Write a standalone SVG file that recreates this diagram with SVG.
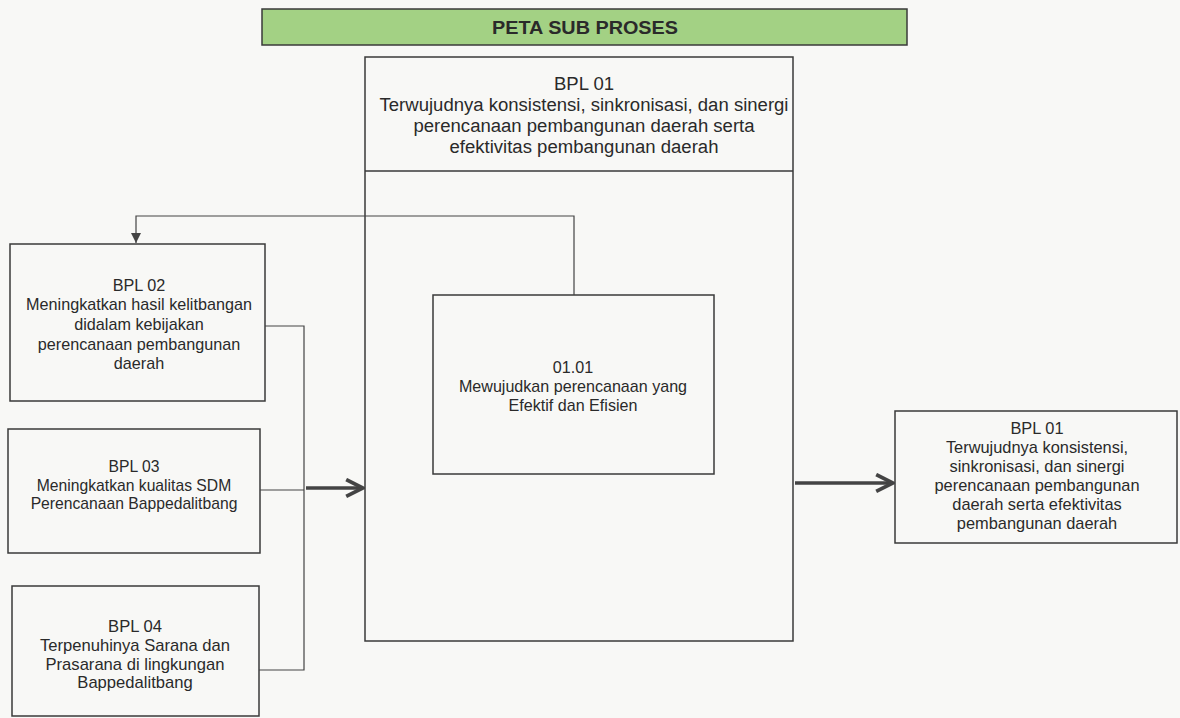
<svg xmlns="http://www.w3.org/2000/svg" width="1180" height="718" viewBox="0 0 1180 718">
<style>
.box{fill:none;stroke:#3a3a3a;stroke-width:1.5}
.t{font-family:"Liberation Sans",Arial,sans-serif;font-size:16px;fill:#2a2a2a;text-anchor:middle}
.ttl{font-family:"Liberation Sans",Arial,sans-serif;font-size:18px;font-weight:bold;fill:#2a2a2a;text-anchor:middle}
.ln{fill:none;stroke:#444;stroke-width:1.2}
.thick{fill:none;stroke:#444;stroke-width:3.5}
</style>
<defs>
<marker id="tri" viewBox="0 0 10 10" refX="10" refY="5" markerWidth="10" markerHeight="10" markerUnits="userSpaceOnUse" orient="auto">
<path d="M0,0 L10,5 L0,10 Z" fill="#444"/>
</marker>
<marker id="chev" viewBox="0 0 10 10" refX="9" refY="5" markerWidth="6" markerHeight="6" orient="auto">
<path d="M1,1 L9,5 L1,9" fill="none" stroke="#444" stroke-width="1.8"/>
</marker>
</defs>
<rect width="1180" height="718" fill="#f8f8f6"/>
<g id="title">
<rect x="262" y="9" width="645" height="36" fill="#a3d184" stroke="#3a3a3a" stroke-width="1.5"/>
<g transform="translate(585,0) scale(1.1,1)"><text class="ttl" x="0" y="34">PETA SUB PROSES</text></g>
</g>
<g id="main">
<rect class="box" x="365" y="57" width="428" height="584"/>
<line class="box" x1="365" y1="171" x2="793" y2="171"/>
<g transform="translate(584,0) scale(1.03,1)">
<text class="t" x="0" y="90" style="font-size:18px">BPL 01</text>
<text class="t" x="0" y="111" style="font-size:18px">Terwujudnya konsistensi, sinkronisasi, dan sinergi</text>
<text class="t" x="0" y="132" style="font-size:18px">perencanaan pembangunan daerah serta</text>
<text class="t" x="0" y="153" style="font-size:18px">efektivitas pembangunan daerah</text>
</g>
</g>
<g id="sub0101">
<rect class="box" x="433" y="295" width="281" height="179"/>
<text class="t" x="573" y="373" style="font-size:16.1px">01.01</text>
<text class="t" x="573" y="392" style="font-size:16.1px">Mewujudkan perencanaan yang</text>
<text class="t" x="573" y="411" style="font-size:16.1px">Efektif dan Efisien</text>
</g>
<g id="bpl02">
<rect class="box" x="10" y="244" width="255" height="157"/>
<text class="t" x="139" y="291" style="font-size:16.2px">BPL 02</text>
<text class="t" x="139" y="310" style="font-size:16.2px">Meningkatkan hasil kelitbangan</text>
<text class="t" x="139" y="330" style="font-size:16.2px">didalam kebijakan</text>
<text class="t" x="139" y="350" style="font-size:16.2px">perencanaan pembangunan</text>
<text class="t" x="139" y="369" style="font-size:16.2px">daerah</text>
</g>
<g id="bpl03">
<rect class="box" x="8" y="429" width="252" height="124"/>
<text class="t" x="134" y="472" style="font-size:15.7px">BPL 03</text>
<text class="t" x="134" y="491" style="font-size:15.7px">Meningkatkan kualitas SDM</text>
<text class="t" x="134" y="509" style="font-size:15.7px">Perencanaan Bappedalitbang</text>
</g>
<g id="bpl04">
<rect class="box" x="12" y="586" width="247" height="130"/>
<text class="t" x="135" y="632" style="font-size:16.6px">BPL 04</text>
<text class="t" x="135" y="651" style="font-size:16.6px">Terpenuhinya Sarana dan</text>
<text class="t" x="135" y="670" style="font-size:16.6px">Prasarana di lingkungan</text>
<text class="t" x="135" y="688" style="font-size:16.6px">Bappedalitbang</text>
</g>
<g id="bpl01out">
<rect class="box" x="895" y="411" width="282" height="132"/>
<text class="t" x="1037" y="434" style="font-size:16.4px">BPL 01</text>
<text class="t" x="1037" y="453" style="font-size:16.4px">Terwujudnya konsistensi,</text>
<text class="t" x="1037" y="472" style="font-size:16.4px">sinkronisasi, dan sinergi</text>
<text class="t" x="1037" y="491" style="font-size:16.4px">perencanaan pembangunan</text>
<text class="t" x="1037" y="510" style="font-size:16.4px">daerah serta efektivitas</text>
<text class="t" x="1037" y="529" style="font-size:16.4px">pembangunan daerah</text>
</g>
<g id="connectors">
<path class="ln" d="M574,295 V216 H136 V243" marker-end="url(#tri)"/>
<path class="ln" d="M265,326 H304 V670 H259"/>
<path class="ln" d="M260,490 H304"/>
<line class="thick" x1="306" y1="488" x2="363" y2="488" marker-end="url(#chev)"/>
<line class="thick" x1="795" y1="483" x2="893" y2="483" marker-end="url(#chev)"/>
</g>
</svg>
